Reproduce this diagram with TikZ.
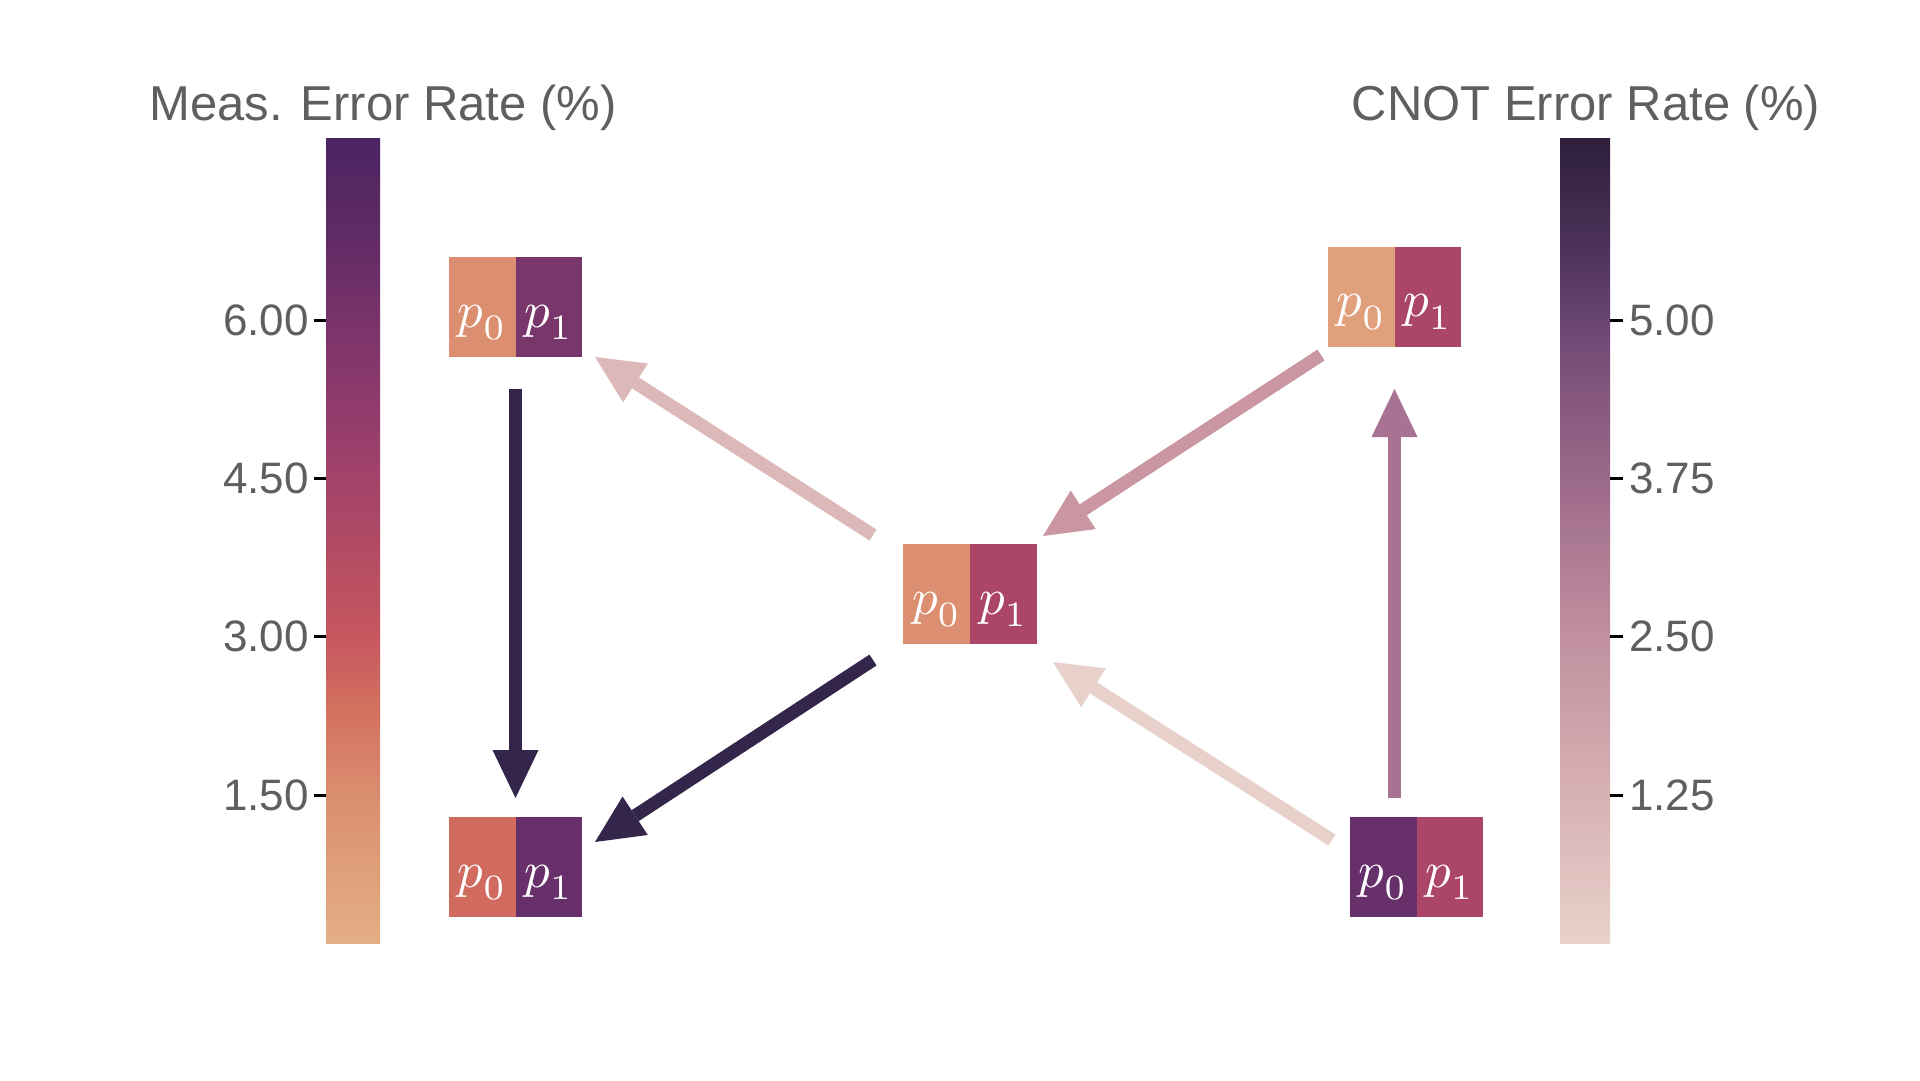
\documentclass[tikz,border=0pt]{standalone}
\usepackage{graphicx}
\usepackage{fontspec}
\newfontfamily\labfont{Liberation Sans}
\usetikzlibrary{arrows.meta}
% node colours
\definecolor{ora}{HTML}{DC8E70}
\definecolor{orb}{HTML}{E0A07B}
\definecolor{red1}{HTML}{D16A5F}
\definecolor{pur1}{HTML}{78366B}
\definecolor{pur2}{HTML}{67306A}
\definecolor{ros}{HTML}{AB4669}
% arrow colours
\definecolor{arA}{HTML}{DDB8B8}
\definecolor{arB}{HTML}{C996A2}
\definecolor{arD}{HTML}{33264A}
\definecolor{arE}{HTML}{E8D1CB}
\definecolor{arF}{HTML}{A87393}
\definecolor{labgray}{HTML}{5F5F5F}
% meas colourbar
\definecolor{m0}{HTML}{E3AE84}
\definecolor{m1}{HTML}{DA8E70}
\definecolor{m2}{HTML}{D4735F}
\definecolor{m3}{HTML}{C6575F}
\definecolor{m4}{HTML}{B44C63}
\definecolor{m5}{HTML}{A2436A}
\definecolor{m6}{HTML}{8E3A6C}
\definecolor{m7}{HTML}{79336A}
\definecolor{m8}{HTML}{622B66}
\definecolor{m9}{HTML}{4B2461}
% cnot colourbar
\definecolor{c0}{HTML}{E8D2CB}
\definecolor{c1}{HTML}{D8B1B3}
\definecolor{c2}{HTML}{C0909F}
\definecolor{c3}{HTML}{9B6989}
\definecolor{c4}{HTML}{85577E}
\definecolor{c5}{HTML}{6A4572}
\definecolor{c6}{HTML}{4B3158}
\definecolor{c7}{HTML}{2E1E3C}
\pgfdeclareverticalshading{measbar}{100bp}{color(0bp)=(m0); color(25bp)=(m0); color(34.2bp)=(m1); color(39.1bp)=(m2); color(44.05bp)=(m3); color(49bp)=(m4); color(53.9bp)=(m5); color(58.8bp)=(m6); color(63.7bp)=(m7); color(68.6bp)=(m8); color(75bp)=(m9); color(100bp)=(m9)}
\pgfdeclareverticalshading{cnotbar}{100bp}{color(0bp)=(c0); color(25bp)=(c0); color(34.2bp)=(c1); color(44.05bp)=(c2); color(53.9bp)=(c3); color(59bp)=(c4); color(63.7bp)=(c5); color(68.5bp)=(c6); color(75bp)=(c7); color(100bp)=(c7)}
\newcommand\pcell[1]{\scalebox{5.1}{$p_{\lower1.0pt\hbox{$\scriptstyle #1$}}$}}
\begin{document}
\begin{tikzpicture}[x=1pt,y=-1pt,
  cell/.style={rectangle, minimum width=66.5pt, minimum height=100pt, inner sep=0pt, text=white, text height=70pt, text depth=30pt},
  arr/.style={line width=13pt, line cap=butt, -{Triangle[length=48pt, width=46pt, line width=0pt]}},
  tick/.style={line width=3pt, draw=black},
  ticklab/.style={font=\labfont\fontsize{44}{44}\selectfont, text=labgray, inner sep=0pt},
  title/.style={font=\labfont\fontsize{49}{49}\selectfont, text=labgray, inner sep=0pt, anchor=base}]
\useasboundingbox[fill=white] (0,0) rectangle (1920,1080);

% titles
\node[title] (mtitle) at (383,120) {Meas. Error Rate (\%)};
\node[title] (ctitle) at (1586,120) {CNOT Error Rate (\%)};

% colour bars
\shade[shading=measbar] (326,138) rectangle (380,943);
\shade[shading=cnotbar] (1560,138) rectangle (1610,943);
\foreach \y/\l [count=\i] in {320/6.00, 478/4.50, 636/3.00, 795/1.50} {
  \draw[tick] (314,\y) -- (326,\y);
  \node[ticklab, anchor=east] (ml\i) at (309,\y) {\l};
}
\foreach \y/\l [count=\i] in {320/5.00, 478/3.75, 636/2.50, 795/1.25} {
  \draw[tick] (1610,\y) -- (1623,\y);
  \node[ticklab, anchor=west] (cl\i) at (1629,\y) {\l};
}

% qubit pairs
\node[cell, fill=ora]  (tla) at (482.25,307) {\pcell{0}};
\node[cell, fill=pur1] (tlb) at (548.75,307) {\pcell{1}};
\node[cell, fill=ora]  (ca)  at (936.5,594) {\pcell{0}};
\node[cell, fill=ros]  (cb)  at (1003.5,594) {\pcell{1}};
\node[cell, fill=orb]  (tra) at (1361.25,296.5) {\pcell{0}};
\node[cell, fill=ros]  (trb) at (1427.75,296.5) {\pcell{1}};
\node[cell, fill=red1] (bla) at (482.25,867) {\pcell{0}};
\node[cell, fill=pur2] (blb) at (548.75,867) {\pcell{1}};
\node[cell, fill=pur2] (bra) at (1383.25,867) {\pcell{0}};
\node[cell, fill=ros]  (brb) at (1449.75,867) {\pcell{1}};

% arrow end points
\coordinate (a1s) at (873,535);  \coordinate (a1e) at (595,357);
\coordinate (a2s) at (1321,355); \coordinate (a2e) at (1043,536);
\coordinate (a3s) at (515.5,389); \coordinate (a3e) at (515.5,798);
\coordinate (a4s) at (873,660);  \coordinate (a4e) at (595,842);
\coordinate (a5s) at (1332,840); \coordinate (a5e) at (1053,662);
\coordinate (a6s) at (1394.5,798); \coordinate (a6e) at (1394.5,389);

\draw[arr, draw=arA, fill=arA] (a1s) -- (a1e);
\draw[arr, draw=arB, fill=arB] (a2s) -- (a2e);
\draw[arr, draw=arD, fill=arD] (a3s) -- (a3e);
\draw[arr, draw=arD, fill=arD] (a4s) -- (a4e);
\draw[arr, draw=arE, fill=arE] (a5s) -- (a5e);
\draw[arr, draw=arF, fill=arF] (a6s) -- (a6e);
\end{tikzpicture}
\end{document}
